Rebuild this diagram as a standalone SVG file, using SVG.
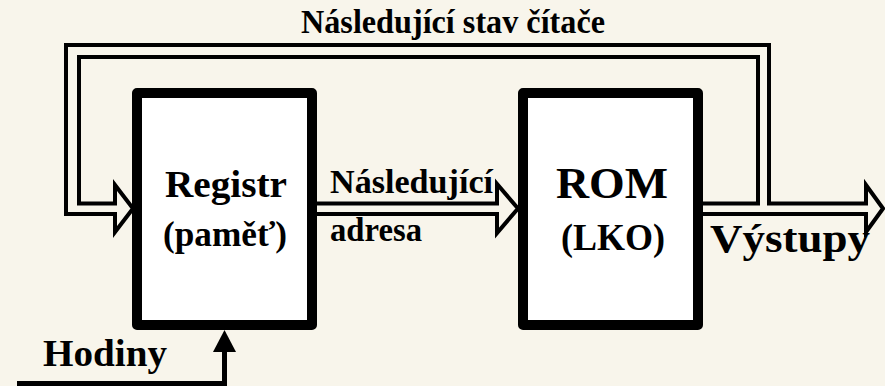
<svg xmlns="http://www.w3.org/2000/svg" width="885" height="386" viewBox="0 0 885 386">
  <style>
    .box { fill: #ffffff; stroke: #000000; stroke-width: 10; stroke-linejoin: round; }
    .bus { fill: none; stroke: #000000; stroke-width: 4; stroke-linejoin: miter; }
    .wire { fill: none; stroke: #000000; stroke-width: 5; }
  </style>
  <rect x="0" y="0" width="885" height="386" fill="#f8f5eb"/>

  <g id="connectors">
    <path id="feedback-bus" class="bus" d="M703,203.5 L758,203.5 L758,57 L79,57 L79,203.5 L115,203.5 L115,185 L133,208.5 L115,232 L115,214 L66,214 L66,45 L769,45 L769,203.5 L866,203.5 L866,185 L883,208.5 L866,232 L866,214 L703,214"/>
    <path id="address-bus" class="bus" d="M317,203.5 L497,203.5 L497,184 L518,208.5 L497,233 L497,214 L317,214"/>
    <path id="clock" class="wire" d="M17,383.5 L224.5,383.5 L224.5,349"/>
    <polygon points="213,352 224.5,330 236,352" fill="#000000"/>
  </g>

  <g id="node-registr" font-family="Liberation Serif" font-weight="bold" fill="#000000">
    <rect class="box" x="137" y="93" width="175" height="232"/>
    <text x="165" y="197" font-size="38" textLength="122" lengthAdjust="spacingAndGlyphs">Registr</text>
    <text x="163" y="246" font-size="36" textLength="124" lengthAdjust="spacingAndGlyphs">(paměť)</text>
  </g>

  <g id="node-rom" font-family="Liberation Serif" font-weight="bold" fill="#000000">
    <rect class="box" x="523" y="93" width="175" height="232"/>
    <text x="556" y="198" font-size="44" textLength="112" lengthAdjust="spacingAndGlyphs">ROM</text>
    <text x="561" y="250" font-size="38" textLength="104" lengthAdjust="spacingAndGlyphs">(LKO)</text>
  </g>

  <g id="labels" font-family="Liberation Serif" font-weight="bold" fill="#000000">
    <text x="301" y="33" font-size="33" textLength="304" lengthAdjust="spacingAndGlyphs">Následující stav čítače</text>
    <text x="330" y="192.5" font-size="33" textLength="163" lengthAdjust="spacingAndGlyphs">Následující</text>
    <text x="330" y="240.5" font-size="33" textLength="92" lengthAdjust="spacingAndGlyphs">adresa</text>
    <text x="710" y="252" font-size="41" textLength="160" lengthAdjust="spacingAndGlyphs">Výstupy</text>
    <text x="43" y="366" font-size="38" textLength="124" lengthAdjust="spacingAndGlyphs">Hodiny</text>
  </g>
</svg>
